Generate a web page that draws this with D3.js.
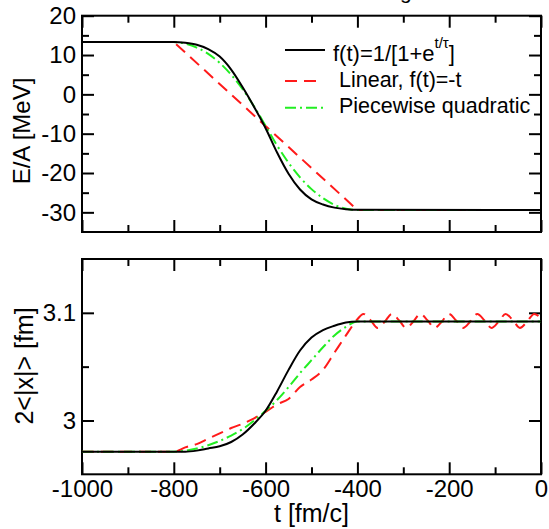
<!DOCTYPE html>
<html>
<head>
<meta charset="utf-8">
<script src="https://cdn.jsdelivr.net/npm/d3@7"></script>
<style>
  body { margin: 0; background: #fff; }
  text { font-family: "Liberation Sans", Arial, sans-serif; fill: #000; }
</style>
</head>
<body>
<div class="chart"></div>
<script>
// time grid (fm/c) for the ramp from -800 to -400
const tRamp = [-1000, -800, -775, -750, -725, -700, -675, -650, -625, -600, -575, -550, -525, -500, -475, -450, -425, -400, 0];
const tLinear = [-1000, -800, -400, 0];

// E/A [MeV]
const energyFermi = [13.3, 13.3, 13.1, 12.6, 11.5, 9.6, 6.3, 1.8, -3.2, -8.6, -14.8, -20.2, -24.2, -26.7, -28.0, -28.8, -29.2, -29.35, -29.4];
const energyLinear = [13.3, 13.3, -29.4, -29.4];
const energyQuad = [13.3, 13.3, 12.9, 11.9, 10.3, 8.0, 5.0, 1.3, -3.1, -8.0, -13.0, -17.4, -21.1, -24.1, -26.4, -28.1, -29.1, -29.4, -29.4];

// 2<|x|> [fm]
const sizeFermi = [2.971, 2.971, 2.971, 2.972, 2.974, 2.976, 2.980, 2.987, 2.997, 3.009, 3.027, 3.047, 3.065, 3.077, 3.084, 3.088, 3.091, 3.092, 3.092];
const sizeQuad = [2.971, 2.971, 2.972, 2.974, 2.977, 2.981, 2.986, 2.992, 3.000, 3.009, 3.019, 3.031, 3.044, 3.056, 3.068, 3.079, 3.087, 3.092, 3.092];
const tSizeLinear = [-1000, -800, -775, -750, -725, -700, -675, -650, -625, -600, -575, -550, -525, -500, -475, -450, -425, -400,
  -387, -371, -356, -340, -325, -309, -294, -278, -263, -247, -232, -216, -201, -185, -170, -154, -139, -123, -108, -92, -77, -61, -46, -30, -15, 0];
const sizeLinear = [2.971, 2.971, 2.975, 2.978, 2.983, 2.988, 2.993, 2.997, 3.002, 3.008, 3.015, 3.020, 3.031, 3.038, 3.047, 3.063, 3.079, 3.094,
  3.099, 3.093, 3.086, 3.092, 3.099, 3.093, 3.086, 3.092, 3.099, 3.093, 3.086, 3.092, 3.099, 3.093, 3.086, 3.092, 3.099, 3.093, 3.086, 3.092, 3.099, 3.093, 3.086, 3.092, 3.099, 3.095];

// ticks
const xMajor = [-1000, -800, -600, -400, -200, 0];
const xMinor = [-900, -700, -500, -300, -100];
const eMajor = [20, 10, 0, -10, -20, -30];
const eMinor = [15, 5, -5, -15, -25];
const sMajor = [3, 3.1];
const sMinor = [3.05];

const legendLabels = ["Linear, f(t)=-t", "Piecewise quadratic"];

const width = 549, height = 529;
const svg = d3.select(".chart").append("svg")
  .attr("width", width)
  .attr("height", height);

const x = d3.scaleLinear().domain([-1000, 0]).range([82, 541]);
const yTop = d3.scaleLinear().domain([-35, 20]).range([232, 15.7]);
const yBot = d3.scaleLinear().domain([2.95, 3.15]).range([474.3, 259]);

const majorLen = 12, minorLen = 7;

// clipped title descender at the very top
svg.append("text").attr("x", 400).attr("y", -1).style("font-size", "21px").text("g");

function drawPanel(y, yMajor, yMinor, showX) {
  const g = svg.append("g");
  const [x0, x1] = x.range();
  const [yb, yt] = y.range();

  // bottom
  g.append("g").attr("transform", `translate(0,${yb})`)
    .call(d3.axisBottom(x).tickValues(xMajor).tickSize(-majorLen).tickPadding(6)
      .tickFormat(d => showX ? String(d) : ""));
  g.append("g").attr("transform", `translate(0,${yb})`)
    .call(d3.axisBottom(x).tickValues(xMinor).tickSize(-minorLen).tickFormat(""));
  // top
  g.append("g").attr("transform", `translate(0,${yt})`)
    .call(d3.axisTop(x).tickValues(xMajor).tickSize(-majorLen).tickFormat(""));
  g.append("g").attr("transform", `translate(0,${yt})`)
    .call(d3.axisTop(x).tickValues(xMinor).tickSize(-minorLen).tickFormat(""));
  // left
  g.append("g").attr("transform", `translate(${x0},0)`)
    .call(d3.axisLeft(y).tickValues(yMajor).tickSize(-majorLen).tickPadding(6).tickFormat(d => String(d)));
  g.append("g").attr("transform", `translate(${x0},0)`)
    .call(d3.axisLeft(y).tickValues(yMinor).tickSize(-minorLen).tickFormat(""));
  // right
  g.append("g").attr("transform", `translate(${x1},0)`)
    .call(d3.axisRight(y).tickValues(yMajor).tickSize(-majorLen).tickFormat(""));
  g.append("g").attr("transform", `translate(${x1},0)`)
    .call(d3.axisRight(y).tickValues(yMinor).tickSize(-minorLen).tickFormat(""));

  g.selectAll(".domain").remove();
  g.selectAll(".tick line").attr("stroke", "#000").attr("stroke-width", 2);
  g.selectAll(".tick text")
    .style("font-family", "'Liberation Sans', Arial, sans-serif")
    .style("font-size", "24px")
    .attr("fill", "#000");

  g.append("rect")
    .attr("x", x0).attr("y", yt)
    .attr("width", x1 - x0).attr("height", yb - yt)
    .attr("fill", "none").attr("stroke", "#000").attr("stroke-width", 2);
  return g;
}

const topPanel = drawPanel(yTop, eMajor, eMinor, false);
const botPanel = drawPanel(yBot, sMajor, sMinor, true);

const styles = {
  fermi: { color: "#000000", dash: null },
  linear: { color: "#ff1a1a", dash: "12,7" },
  quad: { color: "#22ee22", dash: "11,4,2,4" }
};

function drawCurve(g, y, ts, vs, style, curve) {
  const line = d3.line()
    .x(d => x(d[0]))
    .y(d => y(d[1]))
    .curve(curve);
  g.append("path")
    .datum(d3.zip(ts, vs))
    .attr("d", line)
    .attr("fill", "none")
    .attr("stroke", style.color)
    .attr("stroke-width", 2)
    .attr("stroke-dasharray", style.dash);
}

// top panel curves
drawCurve(topPanel, yTop, tLinear, energyLinear, styles.linear, d3.curveLinear);
drawCurve(topPanel, yTop, tRamp, energyQuad, styles.quad, d3.curveMonotoneX);
drawCurve(topPanel, yTop, tRamp, energyFermi, styles.fermi, d3.curveMonotoneX);

// bottom panel curves
drawCurve(botPanel, yBot, tSizeLinear, sizeLinear, styles.linear, d3.curveMonotoneX);
drawCurve(botPanel, yBot, tRamp, sizeQuad, styles.quad, d3.curveMonotoneX);
drawCurve(botPanel, yBot, tRamp, sizeFermi, styles.fermi, d3.curveMonotoneX);

// axis titles
svg.append("text")
  .attr("transform", "translate(30,131) rotate(-90)")
  .attr("text-anchor", "middle")
  .style("font-size", "24px")
  .text("E/A [MeV]");

svg.append("text")
  .attr("transform", "translate(33,366) rotate(-90)")
  .attr("text-anchor", "middle")
  .style("font-size", "25px")
  .text("2<|x|> [fm]");

svg.append("text")
  .attr("x", 311.5).attr("y", 522)
  .attr("text-anchor", "middle")
  .style("font-size", "25px")
  .text("t [fm/c]");

// legend
const legend = svg.append("g");
const legendRows = [
  { y: 50, style: styles.fermi, x2: 325 },
  { y: 81, style: styles.linear, x2: 320 },
  { y: 107.7, style: styles.quad, x2: 325 }
];
legendRows.forEach(r => {
  legend.append("line")
    .attr("x1", 285).attr("x2", r.x2)
    .attr("y1", r.y).attr("y2", r.y)
    .attr("stroke", r.style.color)
    .attr("stroke-width", 2)
    .attr("stroke-dasharray", r.style.dash);
});

const first = legend.append("text")
  .attr("x", 333).attr("y", 61)
  .style("font-size", "22px");
first.append("tspan").text("f(t)=1/[1+e");
first.append("tspan").attr("dy", -13).style("font-size", "15px").text("t/τ");
first.append("tspan").attr("dy", 13).text("]");

legend.selectAll(".legtext")
  .data(legendLabels)
  .join("text")
  .attr("class", "legtext")
  .attr("x", 339)
  .attr("y", (d, i) => 87 + i * 26)
  .style("font-size", "21.5px")
  .text(d => d);
</script>
</body>
</html>
